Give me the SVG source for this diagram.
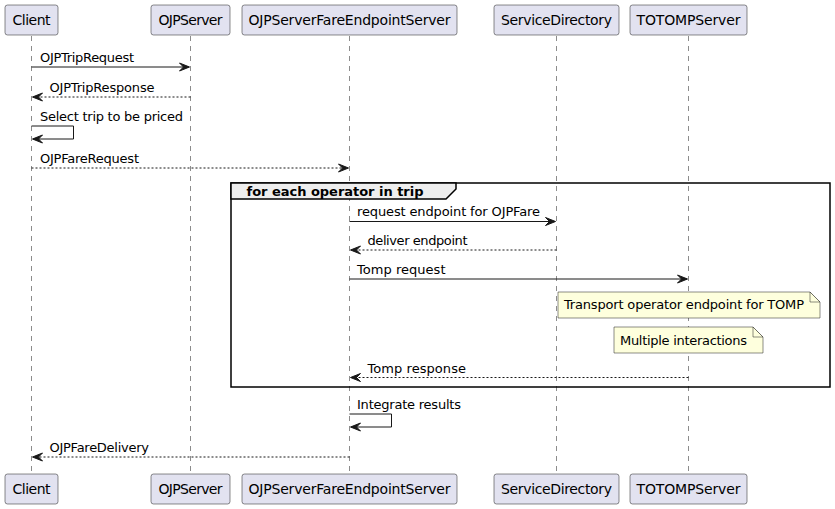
<svg xmlns="http://www.w3.org/2000/svg" width="835" height="509" viewBox="0 0 835 509">
  <style>
    text { font-family: "DejaVu Sans", "Noto Sans", sans-serif; fill: #000000; }
    .pbox { fill: #E2E2F0; stroke: #181818; stroke-width: 0.5; }
    .pname { font-size: 14px; text-anchor: middle; }
    .life { stroke: #181818; stroke-width: 0.5; stroke-dasharray: 5,5; fill: none; }
    .msg { stroke: #181818; stroke-width: 1; fill: none; }
    .ret { stroke: #181818; stroke-width: 1; fill: none; stroke-dasharray: 2,2; }
    .head { fill: #181818; stroke: #181818; stroke-width: 1; }
    .lbl { font-size: 13px; }
    .note { fill: #FEFFDD; stroke: #181818; stroke-width: 0.5; }
    .frame { fill: none; stroke: #000000; stroke-width: 1.5; }
    .tab { fill: #EEEEEE; stroke: #000000; stroke-width: 1.5; }
    .tabtxt { font-size: 13px; font-weight: bold; }
  </style>
  <rect x="0" y="0" width="835" height="509" fill="#FFFFFF"/>

  <!-- lifelines -->
  <g id="lifelines">
    <line class="life" x1="31.5" y1="36" x2="31.5" y2="474"/>
    <line class="life" x1="190.5" y1="36" x2="190.5" y2="474"/>
    <line class="life" x1="349.5" y1="36" x2="349.5" y2="474"/>
    <line class="life" x1="556.5" y1="36" x2="556.5" y2="474"/>
    <line class="life" x1="688.5" y1="36" x2="688.5" y2="474"/>
  </g>

  <!-- participants (head and foot) -->
  <g id="client">
    <rect class="pbox" x="5" y="5" width="53" height="30" rx="2.5"/>
    <text class="pname" x="31.5" y="25" textLength="38" lengthAdjust="spacing">Client</text>
    <rect class="pbox" x="5" y="474" width="53" height="30" rx="2.5"/>
    <text class="pname" x="31.5" y="494" textLength="38" lengthAdjust="spacing">Client</text>
  </g>
  <g id="ojpserver">
    <rect class="pbox" x="151" y="5" width="79" height="30" rx="2.5"/>
    <text class="pname" x="190.5" y="25" textLength="64" lengthAdjust="spacing">OJPServer</text>
    <rect class="pbox" x="151" y="474" width="79" height="30" rx="2.5"/>
    <text class="pname" x="190.5" y="494" textLength="64" lengthAdjust="spacing">OJPServer</text>
  </g>
  <g id="fareendpoint">
    <rect class="pbox" x="242" y="5" width="215" height="30" rx="2.5"/>
    <text class="pname" x="349.5" y="25" textLength="202" lengthAdjust="spacing">OJPServerFareEndpointServer</text>
    <rect class="pbox" x="242" y="474" width="215" height="30" rx="2.5"/>
    <text class="pname" x="349.5" y="494" textLength="202" lengthAdjust="spacing">OJPServerFareEndpointServer</text>
  </g>
  <g id="servicedirectory">
    <rect class="pbox" x="494" y="5" width="125" height="30" rx="2.5"/>
    <text class="pname" x="556.5" y="25" textLength="111" lengthAdjust="spacing">ServiceDirectory</text>
    <rect class="pbox" x="494" y="474" width="125" height="30" rx="2.5"/>
    <text class="pname" x="556.5" y="494" textLength="111" lengthAdjust="spacing">ServiceDirectory</text>
  </g>
  <g id="totompserver">
    <rect class="pbox" x="630" y="5" width="117" height="30" rx="2.5"/>
    <text class="pname" x="688.5" y="25" textLength="104" lengthAdjust="spacing">TOTOMPServer</text>
    <rect class="pbox" x="630" y="474" width="117" height="30" rx="2.5"/>
    <text class="pname" x="688.5" y="494" textLength="104" lengthAdjust="spacing">TOTOMPServer</text>
  </g>

  <!-- loop fragment -->
  <g id="loop">
    <rect class="frame" x="231" y="183" width="599" height="204"/>
    <path class="tab" d="M231,183 L456,183 L456,189 L446,199 L231,199 Z"/>
    <text class="tabtxt" x="246.5" y="196" textLength="177" lengthAdjust="spacing">for each operator in trip</text>
  </g>

  <!-- notes -->
  <g id="note-endpoint">
    <path class="note" d="M558,292 L558,318 L820,318 L820,302 L810,292 Z"/>
    <path class="note" d="M810,292 L810,302 L820,302 L810,292"/>
    <text class="lbl" x="564" y="309" textLength="240" lengthAdjust="spacing">Transport operator endpoint for TOMP</text>
  </g>
  <g id="note-multiple">
    <path class="note" d="M614,327 L614,353 L763,353 L763,337 L753,327 Z"/>
    <path class="note" d="M753,327 L753,337 L763,337 L753,327"/>
    <text class="lbl" x="620" y="345" textLength="127" lengthAdjust="spacing">Multiple interactions</text>
  </g>

  <!-- messages -->
  <g id="connectors">
    <line class="msg" x1="31.5" y1="67" x2="188.5" y2="67"/>
    <polygon class="head" points="179.5,63 189.5,67 179.5,71 183.5,67"/>
    <text class="lbl" x="40" y="62" textLength="94" lengthAdjust="spacing">OJPTripRequest</text>

    <line class="ret" x1="190.5" y1="97" x2="33.5" y2="97"/>
    <polygon class="head" points="42.5,93 32.5,97 42.5,101 38.5,97"/>
    <text class="lbl" x="49.5" y="92" textLength="105" lengthAdjust="spacing">OJPTripResponse</text>

    <polyline class="msg" points="31.5,126 73.5,126 73.5,139 33.5,139"/>
    <polygon class="head" points="42.5,135 32.5,139 42.5,143 38.5,139"/>
    <text class="lbl" x="40" y="121" textLength="143" lengthAdjust="spacing">Select trip to be priced</text>

    <line class="ret" x1="31.5" y1="168" x2="347.5" y2="168"/>
    <polygon class="head" points="338.5,164 348.5,168 338.5,172 342.5,168"/>
    <text class="lbl" x="40" y="163" textLength="99" lengthAdjust="spacing">OJPFareRequest</text>

    <line class="msg" x1="349.5" y1="221.5" x2="554.5" y2="221.5"/>
    <polygon class="head" points="545.5,217.5 555.5,221.5 545.5,225.5 549.5,221.5"/>
    <text class="lbl" x="357" y="216" textLength="183" lengthAdjust="spacing">request endpoint for OJPFare</text>

    <line class="ret" x1="556.5" y1="250" x2="351.5" y2="250"/>
    <polygon class="head" points="360.5,246 350.5,250 360.5,254 356.5,250"/>
    <text class="lbl" x="367.5" y="245" textLength="100" lengthAdjust="spacing">deliver endpoint</text>

    <line class="msg" x1="349.5" y1="279" x2="686.5" y2="279"/>
    <polygon class="head" points="677.5,275 687.5,279 677.5,283 681.5,279"/>
    <text class="lbl" x="357" y="274" textLength="88.5" lengthAdjust="spacing">Tomp request</text>

    <line class="ret" x1="688.5" y1="377.5" x2="351.5" y2="377.5"/>
    <polygon class="head" points="360.5,373.5 350.5,377.5 360.5,381.5 356.5,377.5"/>
    <text class="lbl" x="367.5" y="373" textLength="98.5" lengthAdjust="spacing">Tomp response</text>

    <polyline class="msg" points="349.5,414 391.5,414 391.5,427 351.5,427"/>
    <polygon class="head" points="360.5,423 350.5,427 360.5,431 356.5,427"/>
    <text class="lbl" x="357" y="409" textLength="104" lengthAdjust="spacing">Integrate results</text>

    <line class="ret" x1="349.5" y1="457" x2="33.5" y2="457"/>
    <polygon class="head" points="42.5,453 32.5,457 42.5,461 38.5,457"/>
    <text class="lbl" x="49.5" y="452" textLength="99.5" lengthAdjust="spacing">OJPFareDelivery</text>
  </g>
</svg>
